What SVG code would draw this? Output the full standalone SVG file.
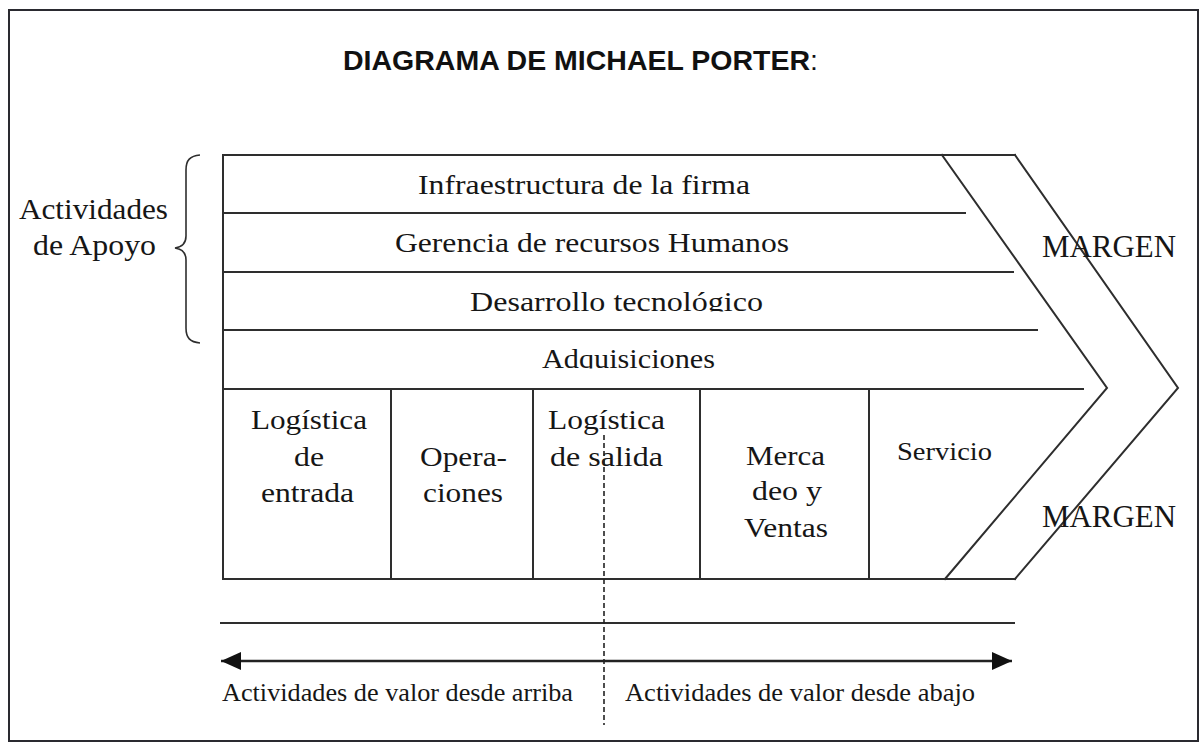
<svg xmlns="http://www.w3.org/2000/svg" width="1201" height="743" viewBox="0 0 1201 743">
<style>
.ln{stroke:#2e2e2e;stroke-width:2;fill:none;stroke-linecap:square}
.t{font-family:"Liberation Serif","Times New Roman",serif;fill:#161616}
.r{font-size:27px}
.p{font-size:27px}
.title{font-family:"Liberation Sans",Arial,sans-serif;font-size:28.5px;font-weight:bold;fill:#111}
</style>
<defs>
<clipPath id="c2"><rect x="200" y="215" width="700" height="37.5"/></clipPath>
<clipPath id="c3"><rect x="200" y="274" width="700" height="37.5"/></clipPath>
<clipPath id="c4"><rect x="200" y="332" width="700" height="36.5"/></clipPath>
<marker id="ah" viewBox="0 0 20 18" refX="20" refY="9" markerWidth="20" markerHeight="18" markerUnits="userSpaceOnUse" orient="auto-start-reverse"><path d="M0,0 L20,9 L0,18 Z" fill="#111"/></marker>
</defs>
<rect x="0" y="0" width="1201" height="743" fill="#fff"/>
<rect id="frame" x="9" y="10" width="1189" height="731" fill="none" stroke="#2a2a30" stroke-width="2"/>
<g id="title"><text class="title" x="343" y="70">DIAGRAMA DE MICHAEL PORTER<tspan font-weight="normal">:</tspan></text></g>
<g id="chain">
<path class="ln" d="M1015,155 L223,155 L223,579 L1015,579"/>
<path class="ln" d="M1015,155 L1178,388 L1015,579"/>
<path class="ln" d="M942,155 L1107,388 L945,579"/>
<path class="ln" d="M223,213 H965 M223,272 H1013 M223,330 H1037 M223,389 H1083"/>
<path class="ln" d="M391,389 V579 M533,389 V579 M700,389 V579 M869,389 V579"/>
</g>
<g id="support-labels">
<g id="infraestructura"><text class="t r" x="418" y="194" textLength="332" lengthAdjust="spacingAndGlyphs">Infraestructura de la firma</text></g>
<g id="rrhh" clip-path="url(#c2)"><text class="t r" x="395" y="252" textLength="394" lengthAdjust="spacingAndGlyphs">Gerencia de recursos Humanos</text></g>
<g id="tecnologia" clip-path="url(#c3)"><text class="t r" x="470" y="311" textLength="293" lengthAdjust="spacingAndGlyphs">Desarrollo tecnológico</text></g>
<g id="adquisiciones" clip-path="url(#c4)"><text class="t r" x="542" y="368" textLength="173" lengthAdjust="spacingAndGlyphs">Adquisiciones</text></g>
</g>
<g id="primary-labels">
<g id="log-entrada">
<text class="t p" x="251" y="429" textLength="116" lengthAdjust="spacingAndGlyphs">Logística</text>
<text class="t p" x="294" y="466" textLength="30" lengthAdjust="spacingAndGlyphs">de</text>
<text class="t p" x="261" y="502" textLength="93" lengthAdjust="spacingAndGlyphs">entrada</text>
</g>
<g id="operaciones">
<text class="t p" x="420" y="466" textLength="87" lengthAdjust="spacingAndGlyphs">Opera-</text>
<text class="t p" x="423" y="502" textLength="80" lengthAdjust="spacingAndGlyphs">ciones</text>
</g>
<g id="log-salida">
<text class="t p" x="548" y="429" textLength="117" lengthAdjust="spacingAndGlyphs">Logística</text>
<text class="t p" x="550" y="466" textLength="113" lengthAdjust="spacingAndGlyphs">de salida</text>
</g>
<g id="mercadeo">
<text class="t p" x="746" y="465" textLength="79" lengthAdjust="spacingAndGlyphs">Merca</text>
<text class="t p" x="752" y="500" textLength="70" lengthAdjust="spacingAndGlyphs">deo y</text>
<text class="t p" x="744" y="537" textLength="84" lengthAdjust="spacingAndGlyphs">Ventas</text>
</g>
<g id="servicio"><text class="t" font-size="26" x="897" y="460" textLength="95" lengthAdjust="spacingAndGlyphs">Servicio</text></g>
</g>
<g id="margen">
<text class="t" font-size="31" x="1042" y="257" textLength="134" lengthAdjust="spacingAndGlyphs">MARGEN</text>
<text class="t" font-size="31" x="1042" y="527" textLength="134" lengthAdjust="spacingAndGlyphs">MARGEN</text>
</g>
<g id="apoyo">
<text class="t" font-size="29" x="19" y="219" textLength="149" lengthAdjust="spacingAndGlyphs">Actividades</text>
<text class="t" font-size="29" x="33" y="255" textLength="123" lengthAdjust="spacingAndGlyphs">de Apoyo</text>
<path d="M200,155 C190,156 186,160 186,170 L186,236 C186,244 182,247 175,248 C182,249 186,252 186,260 L186,328 C186,338 190,342 200,343" fill="none" stroke="#2e2e2e" stroke-width="1.6"/>
</g>
<g id="connectors">
<line class="ln" x1="221" y1="623" x2="1014" y2="623"/>
<line x1="221" y1="661" x2="1012" y2="661" stroke="#222" stroke-width="2.5" marker-start="url(#ah)" marker-end="url(#ah)"/>
<line x1="604" y1="435" x2="604" y2="725" stroke="#222" stroke-width="1.6" stroke-dasharray="5 3"/>
</g>
<g id="value-labels">
<text class="t" font-size="25" x="222" y="701" textLength="351" lengthAdjust="spacingAndGlyphs">Actividades de valor desde arriba</text>
<text class="t" font-size="25" x="625" y="701" textLength="350" lengthAdjust="spacingAndGlyphs">Actividades de valor desde abajo</text>
</g>
</svg>
